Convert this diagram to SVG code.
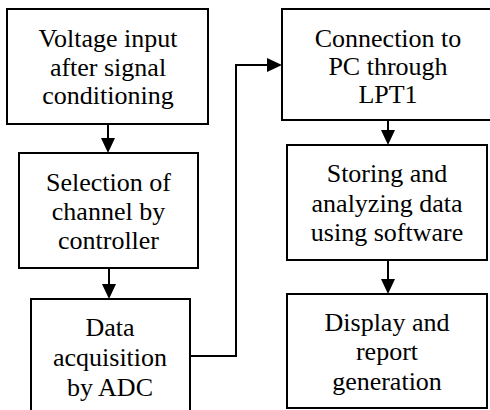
<svg xmlns="http://www.w3.org/2000/svg" width="490" height="410" viewBox="0 0 490 410">
  <rect x="0" y="0" width="490" height="410" fill="#ffffff"/>

  <!-- flow arrows between the stages: shafts plus filled heads -->
  <g id="connectors">
    <g fill="none" stroke="#000000" stroke-width="2">
      <line x1="108" y1="124" x2="108" y2="140"/>
      <line x1="109" y1="268" x2="109" y2="286"/>
      <polyline points="190,356 236,356 236,65 268,65"/>
      <line x1="388" y1="120" x2="388" y2="132"/>
      <line x1="388" y1="260" x2="388" y2="281"/>
    </g>
    <g fill="#000000">
      <polygon points="101,138 115,138 108,153"/>
      <polygon points="102,284 116,284 109,299"/>
      <polygon points="267,58 267,72 282,65"/>
      <polygon points="381,130 395,130 388,145"/>
      <polygon points="381,279 395,279 388,294"/>
    </g>
  </g>

  <g id="voltage-input">
    <rect x="7" y="9" width="201" height="115" fill="#ffffff" stroke="#000000" stroke-width="2"/>
    <text x="108" y="47" text-anchor="middle" font-family="Liberation Serif" font-size="26">Voltage input</text>
    <text x="108" y="75.5" text-anchor="middle" font-family="Liberation Serif" font-size="26">after signal</text>
    <text x="108" y="104" text-anchor="middle" font-family="Liberation Serif" font-size="26">conditioning</text>
  </g>

  <g id="channel-selection">
    <rect x="19" y="153" width="179" height="115" fill="#ffffff" stroke="#000000" stroke-width="2"/>
    <text x="108.5" y="191" text-anchor="middle" font-family="Liberation Serif" font-size="26">Selection of</text>
    <text x="108.5" y="220" text-anchor="middle" font-family="Liberation Serif" font-size="26">channel by</text>
    <text x="108.5" y="249" text-anchor="middle" font-family="Liberation Serif" font-size="26">controller</text>
  </g>

  <g id="data-acquisition">
    <rect x="31" y="299" width="159" height="116" fill="#ffffff" stroke="#000000" stroke-width="2"/>
    <text x="110" y="336" text-anchor="middle" font-family="Liberation Serif" font-size="26">Data</text>
    <text x="110" y="366" text-anchor="middle" font-family="Liberation Serif" font-size="26">acquisition</text>
    <text x="110" y="396" text-anchor="middle" font-family="Liberation Serif" font-size="26">by ADC</text>
  </g>

  <g id="pc-connection">
    <rect x="282" y="9" width="212" height="111" fill="#ffffff" stroke="#000000" stroke-width="2"/>
    <text x="388" y="47" text-anchor="middle" font-family="Liberation Serif" font-size="26">Connection to</text>
    <text x="388" y="75" text-anchor="middle" font-family="Liberation Serif" font-size="26">PC through</text>
    <text x="388" y="103" text-anchor="middle" font-family="Liberation Serif" font-size="26">LPT1</text>
  </g>

  <g id="storing-analyzing">
    <rect x="287" y="145" width="200" height="115" fill="#ffffff" stroke="#000000" stroke-width="2"/>
    <text x="387" y="182" text-anchor="middle" font-family="Liberation Serif" font-size="26">Storing and</text>
    <text x="387" y="211.5" text-anchor="middle" font-family="Liberation Serif" font-size="26">analyzing data</text>
    <text x="387" y="241" text-anchor="middle" font-family="Liberation Serif" font-size="26">using software</text>
  </g>

  <g id="display-report">
    <rect x="287" y="294" width="200" height="114" fill="#ffffff" stroke="#000000" stroke-width="2"/>
    <text x="387" y="331" text-anchor="middle" font-family="Liberation Serif" font-size="26">Display and</text>
    <text x="387" y="360" text-anchor="middle" font-family="Liberation Serif" font-size="26">report</text>
    <text x="387" y="390" text-anchor="middle" font-family="Liberation Serif" font-size="26">generation</text>
  </g>
</svg>
